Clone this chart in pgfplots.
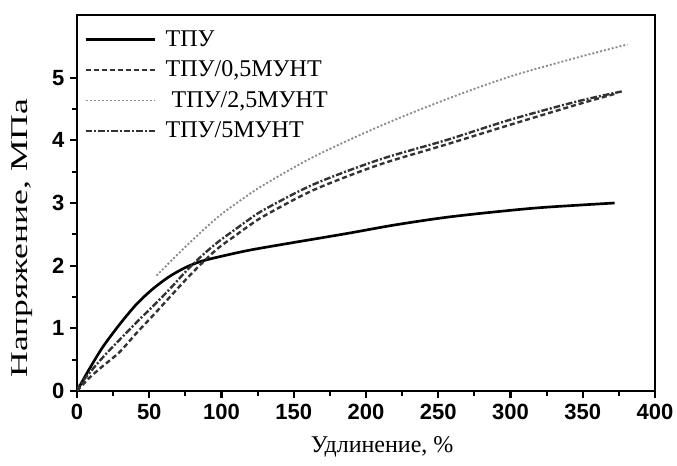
\documentclass[border=0pt]{standalone}
\usepackage{fontspec}
\setmainfont{Liberation Serif}
\newfontfamily\tickfont{Liberation Sans}
\usepackage{pgfplots}
\pgfplotsset{compat=1.18}
\begin{document}
\begin{tikzpicture}
\path[use as bounding box] (-57.75pt,-56.25pt) rectangle (450pt,293.25pt);
\begin{axis}[
  at={(0pt,0pt)}, anchor=south west,
  scale only axis, width=433.5pt, height=282pt,
  xmin=0, xmax=400, ymin=0, ymax=6,
  xtick={0,50,...,400}, ytick={0,1,...,5},
  minor x tick num=1, minor y tick num=1,
  tick pos=left, tick align=outside,
  major tick length=5pt, minor tick length=3.5pt,
  every tick/.style={black, line width=1.6pt},
  axis line style={line width=2pt},
  /pgf/number format/assume math mode=true,
  ticklabel style={font=\tickfont\bfseries\fontsize{16.5}{16.5}\selectfont},
  xticklabel style={yshift=-1pt},
  yticklabel style={xshift=-1pt},
  xlabel={Удлинение, \%},
  ylabel={Напряжение, МПа},
  xlabel style={at={(axis description cs:0.528,-0.149)}, anchor=center, font=\fontsize{18}{20}\selectfont},
  ylabel style={at={(axis description cs:-0.094,0.407)}, anchor=center, font=\fontsize{18}{20}\selectfont, xscale=1.48},
  legend style={draw=none, fill=none, at={(axis description cs:0.01,0.97)}, anchor=north west,
    font=\fontsize{18}{20}\selectfont, row sep=5.5pt, inner sep=1pt},
  legend cell align=left,
  legend image code/.code={\draw[#1] (0pt,0pt) -- (52pt,0pt); \path (57pt,0pt);},
]
\addplot[black, line width=2pt, smooth] coordinates {
(0,0) (8,0.33) (17.8,0.70) (29.4,1.06) (41,1.38) (52,1.62) (63.5,1.82) (75,1.97)
(86,2.07) (100,2.15) (120,2.25) (150,2.37) (186,2.51) (220,2.65) (255,2.77)
(290,2.86) (323,2.93) (372,3.0)};
\addlegendentry{ТПУ}
\addplot[black!80, line width=1.8pt, dash pattern=on 3.75pt off 2.25pt, smooth] coordinates {
(0,0) (4,0.1) (9,0.22) (18,0.4) (29.4,0.62) (41,0.92) (52,1.19) (63.5,1.48) (75,1.77)
(86,2.03) (97.7,2.28) (109,2.47) (118,2.62) (130,2.80) (164,3.21) (209,3.61)
(255,3.93) (300,4.25) (346,4.57) (372,4.74)};
\addlegendentry{ТПУ/0,5МУНТ}
\addplot[black!45, line width=1.4pt, dash pattern=on 1.5pt off 1.5pt, smooth] coordinates {
(55,1.84) (75,2.30) (97.7,2.78) (118,3.12) (130,3.30) (164,3.74) (209,4.22)
(255,4.65) (300,5.02) (346,5.32) (381,5.53)};
\addlegendentry{\ ТПУ/2,5МУНТ}
\addplot[black!80, line width=1.8pt, dash pattern=on 5pt off 1.5pt on 1.5pt off 1.5pt, smooth] coordinates {
(0,0) (2,0.1) (18,0.54) (41,1.09) (52,1.34) (63.5,1.61) (75,1.90) (86,2.15)
(97.7,2.38) (109,2.57) (118,2.72) (130,2.90) (164,3.30) (209,3.69) (255,4.0)
(300,4.33) (346,4.62) (377,4.78)};
\addlegendentry{ТПУ/5МУНТ}
\end{axis}
\end{tikzpicture}
\end{document}
